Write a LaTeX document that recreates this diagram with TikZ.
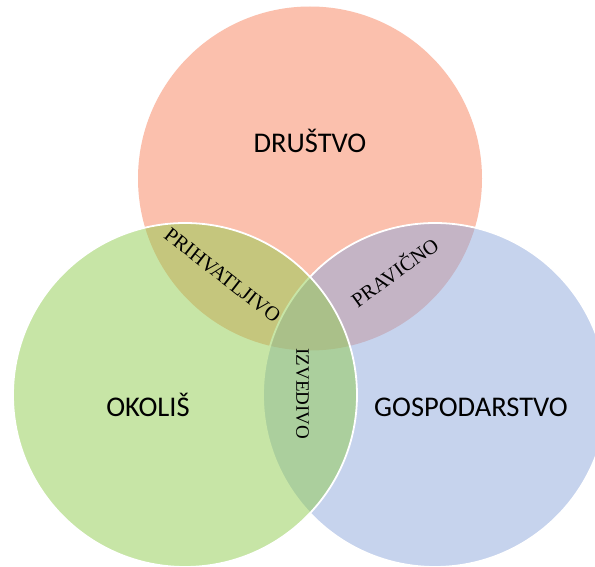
\documentclass[tikz,border=0pt]{standalone}
\usepackage{fontspec}
\setmainfont{Liberation Serif}
\newfontfamily\calib{Carlito}
\definecolor{salmonc}{RGB}{251,192,173}
\definecolor{bluec}{RGB}{143,169,221}
\definecolor{greenc}{RGB}{145,205,79}
\tikzset{
  venn/.style={circle, minimum size=344pt, inner sep=0pt, outer sep=0pt},
  vennline/.style={draw=white, line width=1.8pt},
  biglabel/.style={font=\calib\fontsize{28.5}{30}\selectfont, text=black, inner sep=0pt, anchor=base},
  smalllabel/.style={font=\fontsize{20.5}{22}\selectfont, text=black, inner sep=0pt},
}
\begin{document}
\begin{tikzpicture}[x=1pt,y=-1pt]
\useasboundingbox (0,0) rectangle (595,567);
\clip (0,0) rectangle (595,567);
\fill[white] (0,0) rectangle (595,567);
\node[venn, fill=salmonc] (drustvo) at (310,178.5) {};
\node[venn, vennline, fill=bluec, fill opacity=0.5] (gosp) at (435,395) {};
\node[venn, vennline, fill=greenc, fill opacity=0.5] (okolis) at (185,395) {};
\node[biglabel] (tdr) at (310,153) {DRUŠTVO};
\node[biglabel] (tok) at (148,416) {OKOLIŠ};
\node[biglabel] (tgo) at (471,416) {GOSPODARSTVO};
\node[smalllabel, rotate=-38] (tpri) at (222.5,275.5) {PRIHVATLJIVO};
\node[smalllabel, rotate=36] (tpra) at (394,271.5) {PRAVIČNO};
\node[smalllabel, font=\fontsize{19}{21}\selectfont, rotate=-90] (tizv) at (302.5,394) {IZVEDIVO};
\end{tikzpicture}
\end{document}
